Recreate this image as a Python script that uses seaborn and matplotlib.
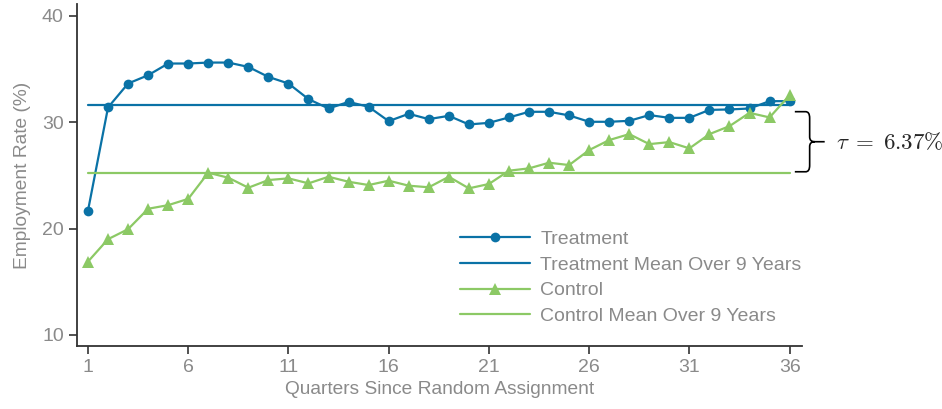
import numpy as np
import pandas as pd
import seaborn as sns
import matplotlib.pyplot as plt
from matplotlib.path import Path
from matplotlib.patches import PathPatch

# Data
quarters = list(range(1, 37))
treatment = [21.69, 31.40, 33.65, 34.43, 35.53, 35.53, 35.62, 35.62, 35.21, 34.27,
             33.65, 32.18, 31.30, 31.92, 31.46, 30.11, 30.80, 30.30, 30.61, 29.80,
             29.95, 30.46, 30.99, 30.99, 30.65, 30.05, 30.05, 30.14, 30.68, 30.42,
             30.42, 31.17, 31.21, 31.30, 31.99, 31.99]
control = [16.90, 19.01, 19.95, 21.87, 22.21, 22.80, 25.26, 24.79, 23.85, 24.57,
           24.73, 24.26, 24.88, 24.41, 24.10, 24.51, 24.04, 23.89, 24.88, 23.79,
           24.20, 25.45, 25.67, 26.20, 25.98, 27.39, 28.33, 28.89, 27.95, 28.14,
           27.55, 28.89, 29.64, 30.89, 30.46, 32.55]
treatment_mean = 31.60
control_mean = 25.23
tau_label = r"$\tau \;=\; 6.37\%$"
xticks = [1, 6, 11, 16, 21, 26, 31, 36]
yticks = [10, 20, 30, 40]

blue = "#0a72a6"
green = "#8cc965"
gray = "#8a8a8a"

df = pd.DataFrame({
    "quarter": quarters,
    "treatment": treatment,
    "control": control,
    "treatment_mean": treatment_mean,
    "control_mean": control_mean,
})

sns.set_style("ticks")
plt.rcParams["font.family"] = ["Liberation Sans", "DejaVu Sans"]
plt.rcParams["mathtext.fontset"] = "cm"

fig, ax = plt.subplots(figsize=(9.42, 4.09), dpi=100)
fig.subplots_adjust(left=0.0817, right=0.851, bottom=0.155, top=0.9895)

sns.lineplot(data=df, x="quarter", y="treatment", color=blue, lw=1.6,
             marker="o", markersize=7, markeredgewidth=0, label="Treatment", ax=ax)
sns.lineplot(data=df, x="quarter", y="treatment_mean", color=blue, lw=1.6,
             label="Treatment Mean Over 9 Years", ax=ax)
sns.lineplot(data=df, x="quarter", y="control", color=green, lw=1.6,
             marker="^", markersize=9, markeredgewidth=0, label="Control", ax=ax)
sns.lineplot(data=df, x="quarter", y="control_mean", color=green, lw=1.6,
             label="Control Mean Over 9 Years", ax=ax)

# curly brace showing the gap between the two means
x0, xv, xt = 36.26, 37.0, 37.75
yt, yb = 31.0, 25.35
ym = (yt + yb) / 2
verts = [(x0, yt), (xv - 0.2, yt), (xv, yt), (xv, yt - 0.6), (xv, ym + 0.45),
         (xv, ym), (xv + 0.25, ym), (xt, ym),
         (xv + 0.25, ym), (xv, ym), (xv, ym - 0.45), (xv, yb + 0.6),
         (xv, yb), (xv - 0.2, yb), (x0, yb)]
codes = [Path.MOVETO, Path.LINETO, Path.CURVE3, Path.CURVE3, Path.LINETO,
         Path.CURVE3, Path.CURVE3, Path.LINETO,
         Path.MOVETO, Path.CURVE3, Path.CURVE3, Path.LINETO,
         Path.CURVE3, Path.CURVE3, Path.LINETO]
ax.add_patch(PathPatch(Path(verts, codes), fill=False, lw=1.2, color="black",
                       clip_on=False))
ax.text(38.3, 28.05, tau_label, fontsize=16.5, ha="left", va="center", clip_on=False)

ax.set_xlim(0.45, 36.6)
ax.set_ylim(9.0, 41.1)
ax.set_xticks(xticks)
ax.set_yticks(yticks)
ax.set_xlabel("Quarters Since Random Assignment", fontsize=13.8, color=gray)
ax.set_ylabel("Employment Rate (%)", fontsize=13.8, color=gray, labelpad=8)
ax.tick_params(labelsize=14, labelcolor=gray, color="#333333", length=6, width=1.2)
for side in ["left", "bottom"]:
    ax.spines[side].set_color("#333333")
    ax.spines[side].set_linewidth(1.3)
sns.despine(ax=ax)

leg = ax.legend(loc="upper left", bbox_to_anchor=(0.528, 0.338), frameon=False,
                fontsize=14, handlelength=3.6, handletextpad=0.55,
                labelspacing=0.42, borderpad=0, borderaxespad=0)
for t in leg.get_texts():
    t.set_color(gray)

plt.savefig("out.png", dpi=100)
